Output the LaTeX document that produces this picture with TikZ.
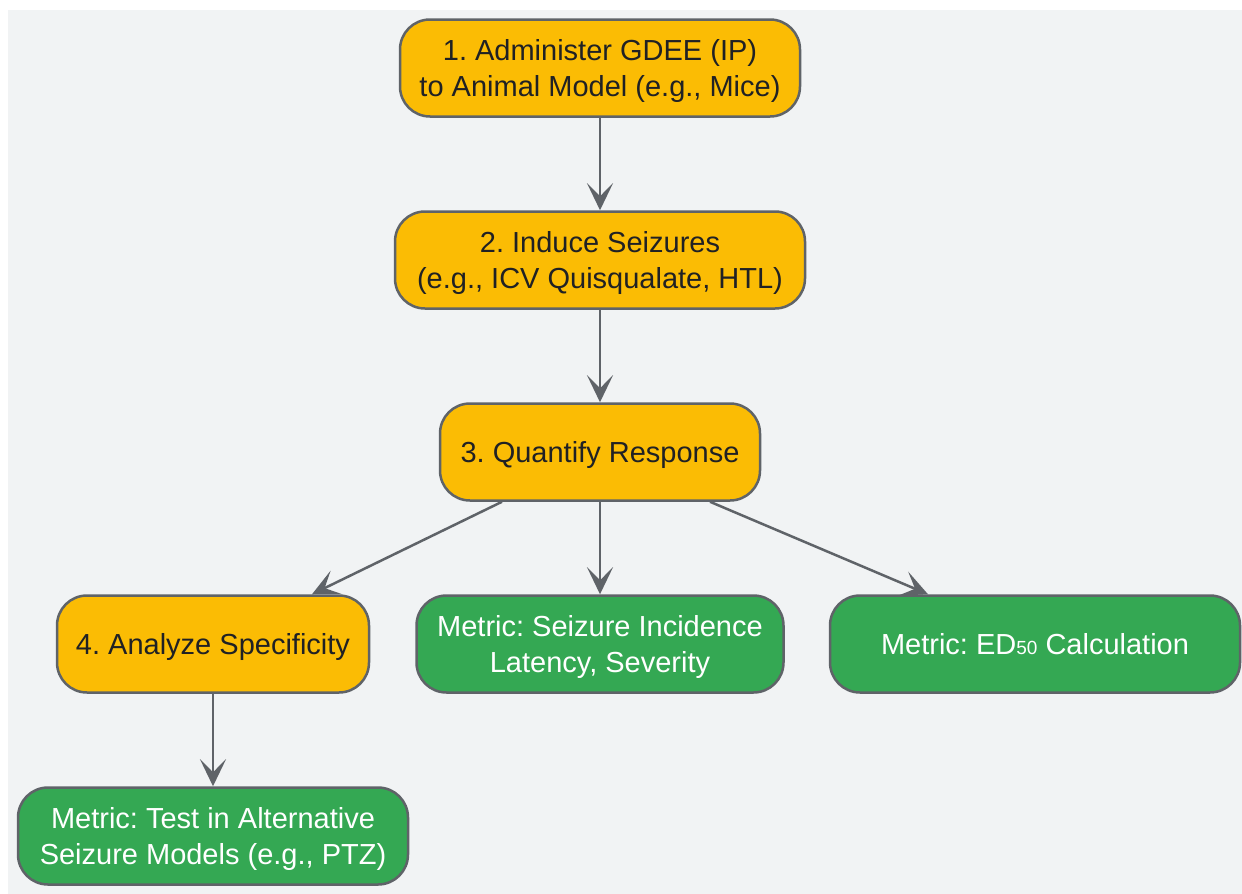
\documentclass[tikz,border=0pt]{standalone}
\usepackage{fontspec}
\setmainfont{Liberation Sans}
\usetikzlibrary{arrows.meta,calc}
\definecolor{bgc}{HTML}{F1F3F4}
\definecolor{orangec}{HTML}{FBBC04}
\definecolor{greenc}{HTML}{34A853}
\definecolor{edgec}{HTML}{5F6368}
\definecolor{txtc}{HTML}{202124}
\tikzset{
  box/.style={draw=edgec, line width=2.5pt, rounded corners=30pt, minimum height=97pt,
    align=center, inner sep=0pt, text depth=0pt, font=\fontsize{29}{36}\selectfont},
  obox/.style={box, fill=orangec, text=txtc},
  gbox/.style={box, fill=greenc, text=white},
  conn/.style={draw=edgec, line width=2.5pt,
    -{Stealth[length=27pt,width=26pt,inset=13pt]}},
}
\frenchspacing
\begin{document}
\begin{tikzpicture}[x=1pt,y=-1pt]
\useasboundingbox (0,0) rectangle (1242,894);
\fill[bgc] (8,10) rectangle (1242,894);
\node[obox, minimum width=400pt] (n1) at (600,68) {1. Administer GDEE (IP)\\to Animal Model (e.g., Mice)};
\node[obox, minimum width=410pt] (n2) at (600,260) {2. Induce Seizures\\(e.g., ICV Quisqualate, HTL)};
\node[obox, minimum width=320pt] (n3) at (600,452) {3. Quantify Response};
\node[obox, minimum width=312pt] (n4) at (213,644) {4. Analyze Specificity};
\node[gbox, minimum width=367pt] (n5) at (600,644) {Metric: Seizure Incidence\\Latency, Severity};
\node[gbox, minimum width=410pt] (n6) at (1035,644) {Metric: ED{\fontsize{19}{19}\selectfont 50} Calculation};
\node[gbox, minimum width=390pt] (n7) at (213,836) {Metric: Test in Alternative\\Seizure Models (e.g., PTZ)};
\draw[conn] (n1) -- (n2);
\draw[conn] (n2) -- (n3);
\draw[conn] ([xshift=-98pt]n3.south) -- ([xshift=99pt]n4.north);
\draw[conn] (n3) -- (n5);
\draw[conn] ([xshift=110pt]n3.south) -- ([xshift=-107pt]n6.north);
\draw[conn] (n4) -- (n7);
\end{tikzpicture}
\end{document}
